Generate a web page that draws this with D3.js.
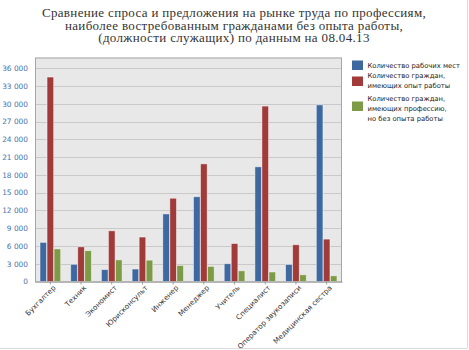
<!DOCTYPE html>
<html>
<head>
<meta charset="utf-8">
<script src="https://cdn.jsdelivr.net/npm/d3@7"></script>
<style>
  html, body { margin: 0; padding: 0; background: #fff; }
  svg { display: block; }
</style>
</head>
<body>
<svg id="chart" width="469" height="350"></svg>
<script>
// Professions (categories)
const categories = ["Бухгалтер", "Техник", "Экономист", "Юрисконсульт", "Инженер",
  "Менеджер", "Учитель", "Специалист", "Оператор звукозаписи", "Медицинская сестра"];

// Vacancies
const jobs = [6600, 2900, 2000, 2100, 11400, 14300, 3000, 19350, 2870, 29800];
// Citizens with work experience
const experienced = [34500, 5850, 8550, 7500, 14050, 19850, 6400, 29600, 6200, 7150];
// Citizens with profession but no work experience
const noExperience = [5500, 5200, 3650, 3600, 2700, 2550, 1800, 1600, 1130, 960];

const seriesNames = ["Количество рабочих мест",
  "Количество граждан,\nимеющих опыт работы",
  "Количество граждан,\nимеющих профессию,\nно без опыта работы"];
const seriesColors = ["#3d68a0", "#a03b3a", "#7d9b46"];
const yTicks = [0, 3000, 6000, 9000, 12000, 15000, 18000, 21000, 24000, 27000, 30000, 33000, 36000];
const titleLines = ["Сравнение спроса и предложения на рынке труда по профессиям,",
  "наиболее востребованным гражданами без опыта работы,",
  "(должности служащих) по данным на 08.04.13"];

const series = [jobs, experienced, noExperience];
const svg = d3.select("#chart");

// page frame (right and bottom edges)
svg.append("line").attr("x1", 467.5).attr("x2", 467.5).attr("y1", 0).attr("y2", 348.5)
  .attr("stroke", "#dcdcdc");
svg.append("line").attr("x1", 0).attr("x2", 467.5).attr("y1", 348.5).attr("y2", 348.5)
  .attr("stroke", "#dcdcdc");

// title; letter spacing widens the first line to the header width
const title = svg.append("text").attr("text-anchor", "middle")
  .attr("font-family", "'Liberation Serif', 'Times New Roman', serif").attr("font-size", 13)
  .attr("fill", "#333");
const tspans = titleLines.map((t, i) =>
  title.append("tspan").attr("x", 234).attr("y", 17 + i * 12.7).text(t));
const firstLen = tspans[0].node().getComputedTextLength();
const spacing = Math.max(0, (384 - firstLen) / titleLines[0].length);
title.attr("letter-spacing", spacing.toFixed(2));

const plot = { left: 35, right: 342, top: 57.5, bottom: 281.5 };

const y = d3.scaleLinear().domain([0, 37800]).range([plot.bottom, plot.top]);
const x0 = d3.scaleBand().domain(categories).range([plot.left, plot.right])
  .paddingInner(0.3).paddingOuter(0.15);
const x1 = d3.scaleBand().domain([0, 1, 2]).range([0, x0.bandwidth()]).padding(0.06);

// plot background
svg.append("rect").attr("x", plot.left).attr("y", plot.top)
  .attr("width", plot.right - plot.left).attr("height", plot.bottom - plot.top)
  .attr("fill", "#e8e8e8");

// gridlines
svg.append("g").selectAll("line").data(yTicks.filter(d => d > 0)).join("line")
  .attr("x1", plot.left).attr("x2", plot.right)
  .attr("y1", d => Math.round(y(d)) + 0.5).attr("y2", d => Math.round(y(d)) + 0.5)
  .attr("stroke", "#c9c9c9").attr("stroke-width", 1);

// plot border
svg.append("rect").attr("x", plot.left + 0.5).attr("y", plot.top + 0.5)
  .attr("width", plot.right - plot.left - 1).attr("height", plot.bottom - plot.top)
  .attr("fill", "none").attr("stroke", "#a6a6a6");

// bars
const groups = svg.append("g").selectAll("g").data(categories).join("g")
  .attr("transform", d => `translate(${x0(d)},0)`);
groups.selectAll("rect").data((d, i) => series.map((s, k) => ({ k, v: s[i] }))).join("rect")
  .attr("x", d => x1(d.k))
  .attr("width", x1.bandwidth())
  .attr("y", d => y(d.v))
  .attr("height", d => y(0) - y(d.v))
  .attr("fill", d => seriesColors[d.k])
  .attr("stroke", "rgba(255,255,255,0.55)").attr("stroke-width", 0.8);

// y axis
const yAxis = d3.axisLeft(y).tickValues(yTicks).tickSize(0).tickPadding(7)
  .tickFormat(d => d3.format(",")(d).replace(/,/g, " "));
const gy = svg.append("g").attr("transform", `translate(${plot.left},0)`).call(yAxis);
gy.select(".domain").remove();
gy.selectAll("text").attr("font-family", "'DejaVu Sans', sans-serif").attr("font-size", 7.4)
  .attr("fill", "#4a72ac");

// x axis
const xAxis = d3.axisBottom(x0).tickSize(3).tickSizeOuter(0).tickPadding(3);
const gx = svg.append("g").attr("transform", `translate(0,${plot.bottom})`).call(xAxis);
gx.select(".domain").attr("stroke", "#9a9a9a");
gx.selectAll(".tick line").attr("stroke", "#9a9a9a");
gx.selectAll("text").attr("font-family", "'DejaVu Sans', sans-serif").attr("font-size", 7.2)
  .attr("fill", "#333").attr("text-anchor", "end")
  .attr("transform", "translate(4,5) rotate(-45)").attr("dy", "0.35em").attr("y", 0).attr("x", 0);

// legend
const legend = svg.append("g").attr("transform", "translate(352,0)");
const legendTop = [60.5, 76.5, 101.5];
seriesNames.forEach((name, i) => {
  legend.append("rect").attr("x", 0).attr("y", legendTop[i]).attr("width", 11).attr("height", 9.5)
    .attr("fill", seriesColors[i]);
  const lines = name.split("\n");
  const t = legend.append("text").attr("font-family", "'DejaVu Sans', sans-serif")
    .attr("font-size", 6.8).attr("fill", "#222");
  const startY = i === 0 ? 67.5 : (i === 1 ? 78 : 100.5);
  lines.forEach((l, j) => t.append("tspan").attr("x", 15.5).attr("y", startY + j * 10).text(l));
});
</script>
</body>
</html>
